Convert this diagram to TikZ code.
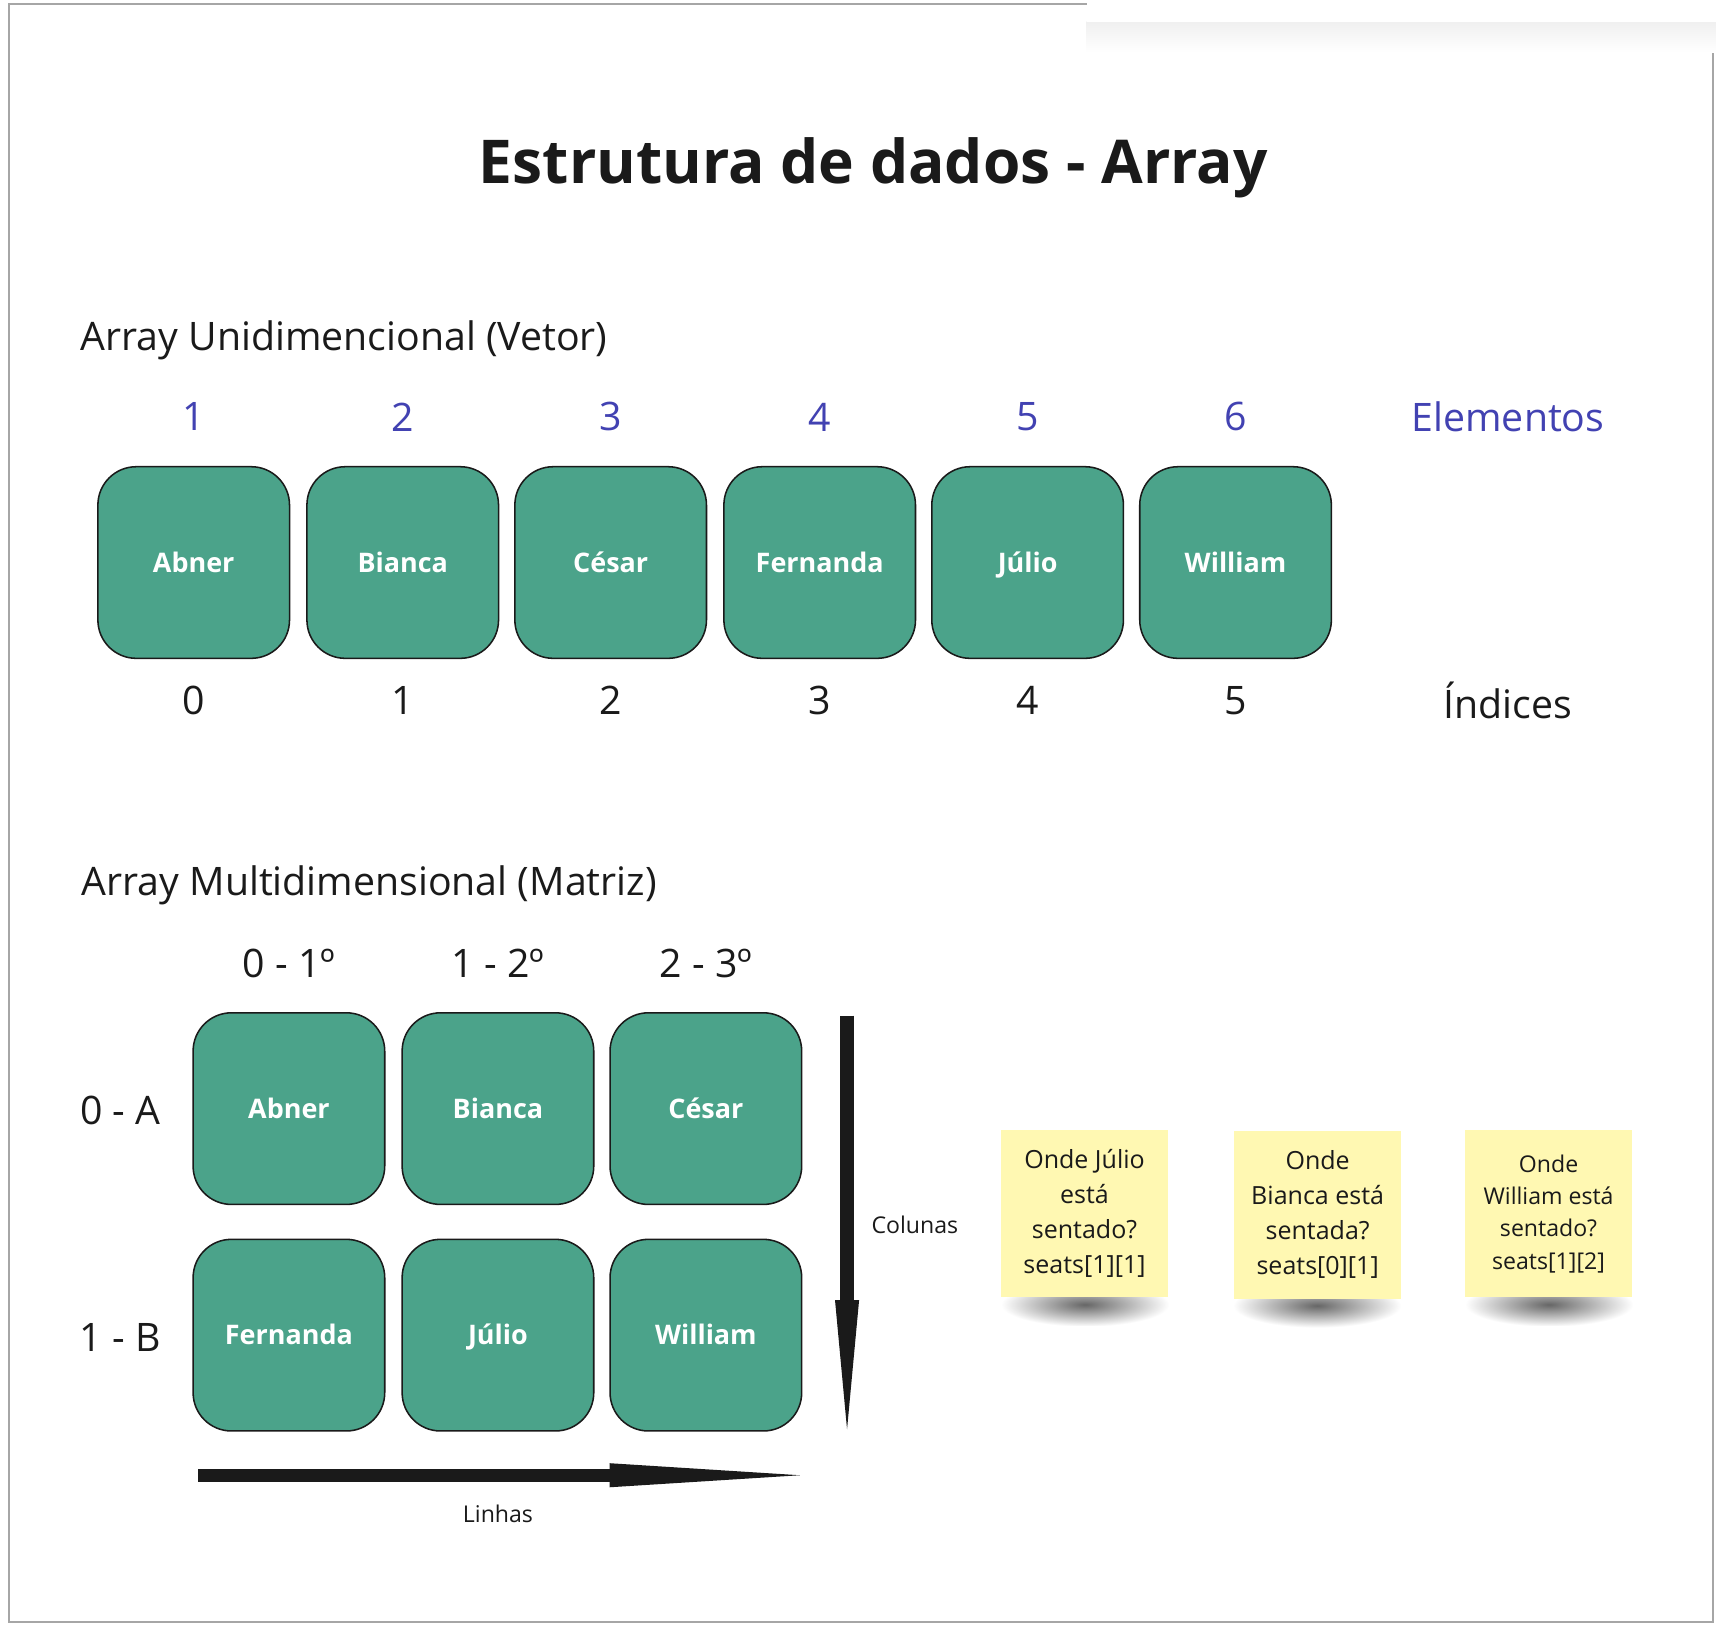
\documentclass[tikz,border=0pt]{standalone}
\usepackage{fontspec}
\setmainfont{Open Sans}
\usepackage{tikz}
\usepackage{xcolor}
\usetikzlibrary{calc,fadings,positioning}

\definecolor{seatgreen}{RGB}{75,163,138}
\definecolor{elemblue}{RGB}{66,66,178}
\definecolor{inkdark}{RGB}{26,26,26}
\definecolor{noteyellow}{RGB}{255,248,178}

\tikzfading[name=softspot, inner color=transparent!0, outer color=transparent!100]

\tikzset{
	seat/.style={draw=inkdark, fill=seatgreen, rounded corners=0.35cm, minimum width=1.75cm, minimum height=1.75cm,
		text=white, text height=0.72em, text depth=0.22em, font=\bfseries\fontsize{7}{9}\selectfont},
	heading/.style={anchor=west, inner sep=0pt, text=inkdark, font=\fontsize{10.2}{12}\selectfont},
	label/.style={text=inkdark, font=\fontsize{10.2}{12}\selectfont},
	elem/.style={text=elemblue, font=\fontsize{10.2}{12}\selectfont},
	note/.style={fill=noteyellow, minimum width=1.53cm, minimum height=1.53cm, align=center,
		text=inkdark, font=\fontsize{6.5}{9.1}\selectfont},
	noteshadow/.style={fill=black, opacity=0.6, path fading=softspot},
	arrowlabel/.style={text=inkdark, font=\fontsize{6}{7}\selectfont},
}

\begin{document}
\begin{tikzpicture}[x=0.01cm, y=-0.01cm]
		\useasboundingbox (0,0) rectangle (1568,1484);
		\fill[white] (0,0) rectangle (1568,1484);
		% frame
		\draw[gray!70, line width=0.02cm] (993,4) -- (8,4) -- (8,1482) -- (1565,1482) -- (1565,20);
		\shade[top color=gray!12, bottom color=white] (993,20) rectangle (1568,48);
		\fill[white] (993,0) rectangle (1568,20);

		\node[text=inkdark, font=\bfseries\fontsize{15.7}{19}\selectfont] (title) at (798,153) {Estrutura de dados - Array};

		% vetor
		\node[heading] (vetor) at (73,311) {Array Unidimencional (Vetor)};

		\node[elem] (e1) at (177,381) {1};
		\node[elem] (e2) at (368,381) {2};
		\node[elem] (e3) at (558,381) {3};
		\node[elem] (e4) at (749,381) {4};
		\node[elem] (e5) at (939,381) {5};
		\node[elem] (e6) at (1129,381) {6};
		\node[elem] (elementos) at (1378,381) {Elementos};

		\node[seat] (v0) at (177,514) {Abner};
		\node[seat] (v1) at (368,514) {Bianca};
		\node[seat] (v2) at (558,514) {César};
		\node[seat] (v3) at (749,514) {Fernanda};
		\node[seat] (v4) at (939,514) {Júlio};
		\node[seat] (v5) at (1129,514) {William};

		\node[label] (i0) at (177,640) {0};
		\node[label] (i1) at (368,640) {1};
		\node[label] (i2) at (558,640) {2};
		\node[label] (i3) at (749,640) {3};
		\node[label] (i4) at (939,640) {4};
		\node[label] (i5) at (1129,640) {5};
		\node[label] (indices) at (1378,640) {Índices};

		% matriz
		\node[heading] (matriz) at (74,809) {Array Multidimensional (Matriz)};

		\node[label] (c0) at (264,880) {0 - 1º};
		\node[label] (c1) at (455,880) {1 - 2º};
		\node[label] (c2) at (645,880) {2 - 3º};
		\node[label] (r0) at (110,1015) {0 - A};
		\node[label] (r1) at (110,1222) {1 - B};

		\node[seat] (m00) at (264,1013) {Abner};
		\node[seat] (m01) at (455,1013) {Bianca};
		\node[seat] (m02) at (645,1013) {César};
		\node[seat] (m10) at (264,1220) {Fernanda};
		\node[seat] (m11) at (455,1220) {Júlio};
		\node[seat] (m12) at (645,1220) {William};

		% colunas
		\coordinate (colTop) at (774,928);
		\coordinate (colHead) at (774,1188);
		\coordinate (colEnd) at (774,1306);
		\draw[inkdark, line width=0.12cm] (colTop) -- (colHead);
		\fill[inkdark] ($(colHead)+(-11,0)$) -- ($(colHead)+(11,0)$) -- (colEnd) -- cycle;
		\node[arrowlabel] (colunas) at (836,1119) {Colunas};

		% linhas
		\coordinate (linStart) at (181,1348);
		\coordinate (linHead) at (557,1348);
		\coordinate (linEnd) at (731,1348);
		\draw[inkdark, line width=0.12cm] (linStart) -- (linHead);
		\fill[inkdark] ($(linHead)+(0,-11)$) -- ($(linHead)+(0,11)$) -- (linEnd) -- cycle;
		\node[arrowlabel] (linhas) at (455,1383) {Linhas};

		% post-its
		\begin{scope}
			\fill[noteshadow] (915,1172) rectangle (1068,1212);
			\fill[noteshadow] (1127,1173) rectangle (1280,1213);
			\fill[noteshadow] (1339,1172) rectangle (1492,1212);
			\node[note] (q1) at (991,1109) {Onde Júlio\\está\\sentado?\\seats[1][1]};
			\node[note] (q2) at (1204,1110) {Onde\\Bianca está\\sentada?\\seats[0][1]};
			\node[note, font=\fontsize{6}{8.4}\selectfont] (q3) at (1415,1109) {Onde\\William está\\sentado?\\seats[1][2]};
		\end{scope}
	\end{tikzpicture}
\end{document}
